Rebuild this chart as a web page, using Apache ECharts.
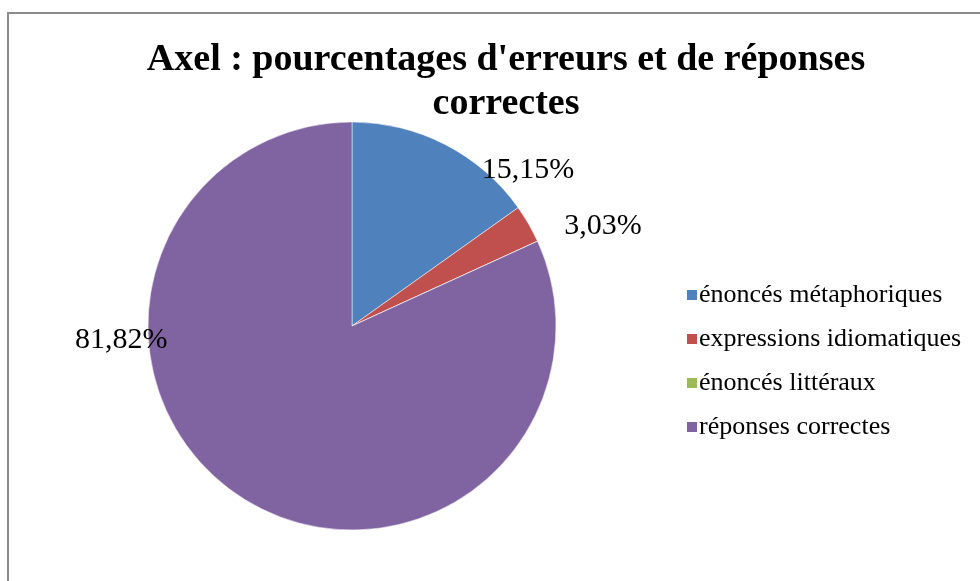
<!DOCTYPE html>
<html>
<head>
<meta charset="utf-8">
<script src="https://cdn.jsdelivr.net/npm/echarts@6/dist/echarts.min.js"></script>
<style>
  html, body { margin: 0; padding: 0; background: #fff; }
  #chart { width: 980px; height: 581px; }
</style>
</head>
<body>
<div id="chart"></div>
<script>
const categories = ['énoncés métaphoriques', 'expressions idiomatiques', 'énoncés littéraux', 'réponses correctes']
const percentages = [15.15, 3.03, 0, 81.82]

const colors = ['#4F81BD', '#C0504D', '#9BBB59', '#8064A2']
// where each label sits, relative to the middle of its slice (Excel "best fit")
const labelOffsets = [[128, -63], [160, -47], [0, 0], [-174, -74]]

const serif = '"Liberation Serif", "Times New Roman", serif'

const myChart = echarts.init(document.getElementById('chart'))
myChart.setOption({
    animation: false,
    graphic: [{
        type: 'rect',
        shape: { x: 8, y: 13, width: 990, height: 600 },
        style: { fill: 'none', stroke: '#8c8c8c', lineWidth: 2 }
    }],
    title: {
        text: 'Axel : pourcentages d\'erreurs et de réponses\ncorrectes',
        left: 501,
        top: 33,
        textAlign: 'center',
        textStyle: {
            fontFamily: serif,
            fontWeight: 'bold',
            fontSize: 38,
            lineHeight: 44,
            color: '#000'
        }
    },
    legend: {
        orient: 'vertical',
        left: 680,
        top: 277,
        icon: 'rect',
        itemWidth: 12,
        itemHeight: 12,
        itemGap: 18,
        data: categories,
        textStyle: { fontFamily: serif, fontSize: 26, color: '#000', padding: [0, 0, 0, -4] }
    },
    series: [{
        type: 'pie',
        center: [352, 326],
        radius: [0, 204],
        startAngle: 90,
        clockwise: true,
        avoidLabelOverlap: false,
        emphasis: { disabled: true },
        itemStyle: { borderColor: '#ffffff', borderWidth: 0.5 },
        label: {
            position: 'inside',
            fontFamily: serif,
            fontSize: 30,
            color: '#000',
            formatter: p => p.value.toFixed(2).replace('.', ',') + '%'
        },
        labelLine: { show: false },
        data: categories.map((name, i) => ({
            name,
            value: percentages[i],
            itemStyle: { color: colors[i] },
            label: { show: percentages[i] > 0, offset: labelOffsets[i] }
        }))
    }]
})
</script>
</body>
</html>
